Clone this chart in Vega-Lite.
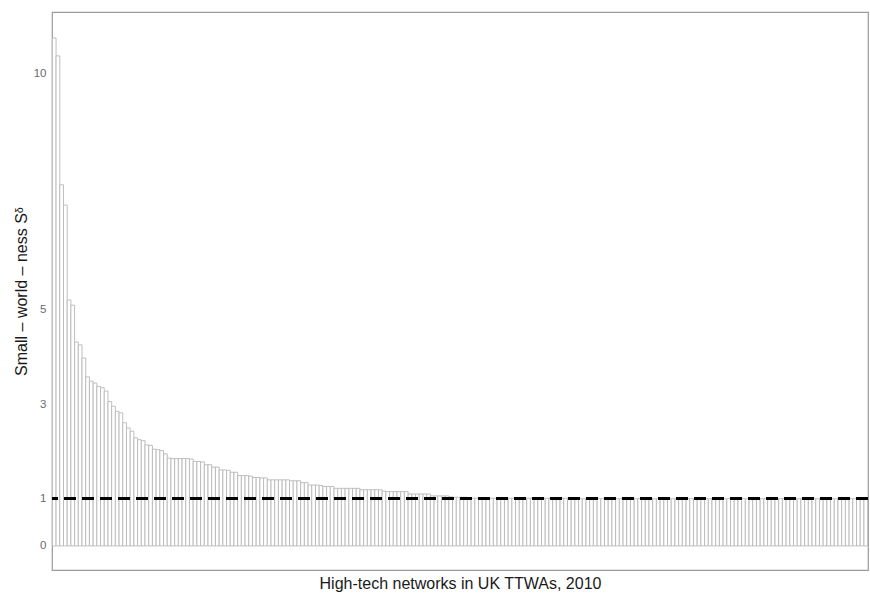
{
  "$schema": "https://vega.github.io/schema/vega-lite/v6.json",
  "autosize": "none",
  "width": 816,
  "height": 558,
  "padding": {"left": 52, "top": 12, "right": 2, "bottom": 25},
  "background": "white",
  "config": {
    "view": {"stroke": "#9a9a9a", "strokeWidth": 1.2},
    "font": "Liberation Sans"
  },
  "datasets": {
    "sw": [
      {"i":0,"s":10.76},{"i":1,"s":10.38},{"i":2,"s":7.65},{"i":3,"s":7.22},{"i":4,"s":5.21},{"i":5,"s":5.10},{"i":6,"s":4.32},{"i":7,"s":4.26},{"i":8,"s":3.98},{"i":9,"s":3.58},
      {"i":10,"s":3.49},{"i":11,"s":3.45},{"i":12,"s":3.38},{"i":13,"s":3.35},{"i":14,"s":3.28},{"i":15,"s":3.06},{"i":16,"s":2.96},{"i":17,"s":2.85},{"i":18,"s":2.82},{"i":19,"s":2.61},
      {"i":20,"s":2.50},{"i":21,"s":2.43},{"i":22,"s":2.29},{"i":23,"s":2.25},{"i":24,"s":2.23},{"i":25,"s":2.14},{"i":26,"s":2.13},{"i":27,"s":2.05},{"i":28,"s":2.04},{"i":29,"s":2.02},
      {"i":30,"s":1.95},{"i":31,"s":1.86},{"i":32,"s":1.85},{"i":33,"s":1.85},{"i":34,"s":1.85},{"i":35,"s":1.85},{"i":36,"s":1.85},{"i":37,"s":1.84},{"i":38,"s":1.79},{"i":39,"s":1.79},
      {"i":40,"s":1.78},{"i":41,"s":1.72},{"i":42,"s":1.72},{"i":43,"s":1.67},{"i":44,"s":1.67},{"i":45,"s":1.61},{"i":46,"s":1.61},{"i":47,"s":1.60},{"i":48,"s":1.56},{"i":49,"s":1.56},
      {"i":50,"s":1.49},{"i":51,"s":1.49},{"i":52,"s":1.49},{"i":53,"s":1.48},{"i":54,"s":1.45},{"i":55,"s":1.45},{"i":56,"s":1.44},{"i":57,"s":1.44},{"i":58,"s":1.40},{"i":59,"s":1.40},
      {"i":60,"s":1.40},{"i":61,"s":1.40},{"i":62,"s":1.40},{"i":63,"s":1.40},{"i":64,"s":1.38},{"i":65,"s":1.38},{"i":66,"s":1.38},{"i":67,"s":1.34},{"i":68,"s":1.34},{"i":69,"s":1.29},
      {"i":70,"s":1.29},{"i":71,"s":1.29},{"i":72,"s":1.28},{"i":73,"s":1.26},{"i":74,"s":1.26},{"i":75,"s":1.26},{"i":76,"s":1.22},{"i":77,"s":1.22},{"i":78,"s":1.22},{"i":79,"s":1.22},
      {"i":80,"s":1.22},{"i":81,"s":1.22},{"i":82,"s":1.22},{"i":83,"s":1.19},{"i":84,"s":1.19},{"i":85,"s":1.19},{"i":86,"s":1.19},{"i":87,"s":1.19},{"i":88,"s":1.19},{"i":89,"s":1.16},
      {"i":90,"s":1.15},{"i":91,"s":1.15},{"i":92,"s":1.15},{"i":93,"s":1.15},{"i":94,"s":1.15},{"i":95,"s":1.15},{"i":96,"s":1.10},{"i":97,"s":1.10},{"i":98,"s":1.10},{"i":99,"s":1.10},
      {"i":100,"s":1.10},{"i":101,"s":1.10},{"i":102,"s":1.06},{"i":103,"s":1.06},{"i":104,"s":1.06},{"i":105,"s":1.06},{"i":106,"s":1.06},{"i":107,"s":1.04},{"i":108,"s":1.03},{"i":109,"s":1.03},
      {"i":110,"s":1.03},{"i":111,"s":1.03},{"i":112,"s":1.01},{"i":113,"s":1.01},{"i":114,"s":1.01},{"i":115,"s":1.01},{"i":116,"s":1.01},{"i":117,"s":1.01},{"i":118,"s":1.01},{"i":119,"s":1.01},
      {"i":120,"s":1.01},{"i":121,"s":1.01},{"i":122,"s":1.01},{"i":123,"s":1.01},{"i":124,"s":1.01},{"i":125,"s":1.01},{"i":126,"s":1.01},{"i":127,"s":1.01},{"i":128,"s":1.01},{"i":129,"s":1.01},
      {"i":130,"s":1.01},{"i":131,"s":1.01},{"i":132,"s":1.01},{"i":133,"s":1.01},{"i":134,"s":1.01},{"i":135,"s":1.01},{"i":136,"s":1.01},{"i":137,"s":1.01},{"i":138,"s":1.01},{"i":139,"s":1.01},
      {"i":140,"s":1.0},{"i":141,"s":1.0},{"i":142,"s":1.0},{"i":143,"s":1.0},{"i":144,"s":1.0},{"i":145,"s":1.0},{"i":146,"s":1.0},{"i":147,"s":1.0},{"i":148,"s":1.0},{"i":149,"s":1.0},
      {"i":150,"s":1.0},{"i":151,"s":1.0},{"i":152,"s":1.0},{"i":153,"s":1.0},{"i":154,"s":1.0},{"i":155,"s":1.0},{"i":156,"s":1.0},{"i":157,"s":1.0},{"i":158,"s":1.0},{"i":159,"s":1.0},
      {"i":160,"s":1.0},{"i":161,"s":1.0},{"i":162,"s":1.0},{"i":163,"s":1.0},{"i":164,"s":1.0},{"i":165,"s":1.0},{"i":166,"s":1.0},{"i":167,"s":1.0},{"i":168,"s":1.0},{"i":169,"s":1.0},
      {"i":170,"s":1.0},{"i":171,"s":1.0},{"i":172,"s":1.0},{"i":173,"s":1.0},{"i":174,"s":1.0},{"i":175,"s":1.0},{"i":176,"s":1.0},{"i":177,"s":1.0},{"i":178,"s":1.0},{"i":179,"s":1.0},
      {"i":180,"s":1.0},{"i":181,"s":1.0},{"i":182,"s":1.0},{"i":183,"s":1.0},{"i":184,"s":1.0},{"i":185,"s":1.0},{"i":186,"s":1.0},{"i":187,"s":1.0},{"i":188,"s":1.0},{"i":189,"s":1.0},
      {"i":190,"s":1.0},{"i":191,"s":1.0},{"i":192,"s":1.0},{"i":193,"s":1.0},{"i":194,"s":1.0},{"i":195,"s":1.0},{"i":196,"s":1.0},{"i":197,"s":1.0},{"i":198,"s":1.0},{"i":199,"s":1.0},
      {"i":200,"s":1.0},{"i":201,"s":1.0},{"i":202,"s":1.0},{"i":203,"s":1.0},{"i":204,"s":1.0},{"i":205,"s":1.0},{"i":206,"s":1.0},{"i":207,"s":1.0},{"i":208,"s":1.0},{"i":209,"s":1.0},
      {"i":210,"s":1.0},{"i":211,"s":1.0},{"i":212,"s":1.0},{"i":213,"s":1.0},{"i":214,"s":1.0},{"i":215,"s":1.0},{"i":216,"s":1.0},{"i":217,"s":1.0},{"i":218,"s":1.0},{"i":219,"s":1.0}
    ]
  },
  "data": {"name": "sw"},
  "layer": [
    {
      "mark": {"type": "bar", "fill": "white", "stroke": "#b8b8b8", "strokeWidth": 0.9},
      "encoding": {
        "x": {
          "field": "i", "type": "ordinal",
          "scale": {"paddingInner": 0, "paddingOuter": 0.1},
          "axis": {
            "labels": false, "ticks": false, "domain": false, "grid": false,
            "title": "High-tech networks in UK TTWAs, 2010",
            "titleFont": "Liberation Sans", "titleFontSize": 16, "titleFontWeight": "normal",
            "titleColor": "#1a1a1a", "titlePadding": 5
          }
        },
        "y": {
          "field": "s", "type": "quantitative",
          "scale": {"domain": [-0.51, 11.31], "nice": false, "zero": false},
          "axis": {
            "values": [0, 1, 3, 5, 10], "ticks": false, "domain": false, "grid": false,
            "labelFont": "Liberation Sans", "labelFontSize": 11.5, "labelColor": "#6b6b6b", "labelPadding": 6,
            "title": "Small – world – ness Sᵟ",
            "titleFont": "Liberation Sans", "titleFontSize": 16, "titleFontWeight": "normal",
            "titleColor": "#1a1a1a", "titlePadding": 4
          }
        },
        "y2": {"datum": 0}
      }
    },
    {
      "mark": {"type": "rule", "color": "black", "strokeWidth": 2, "strokeDash": [12, 6]},
      "encoding": {"y": {"datum": 1}}
    }
  ]
}
